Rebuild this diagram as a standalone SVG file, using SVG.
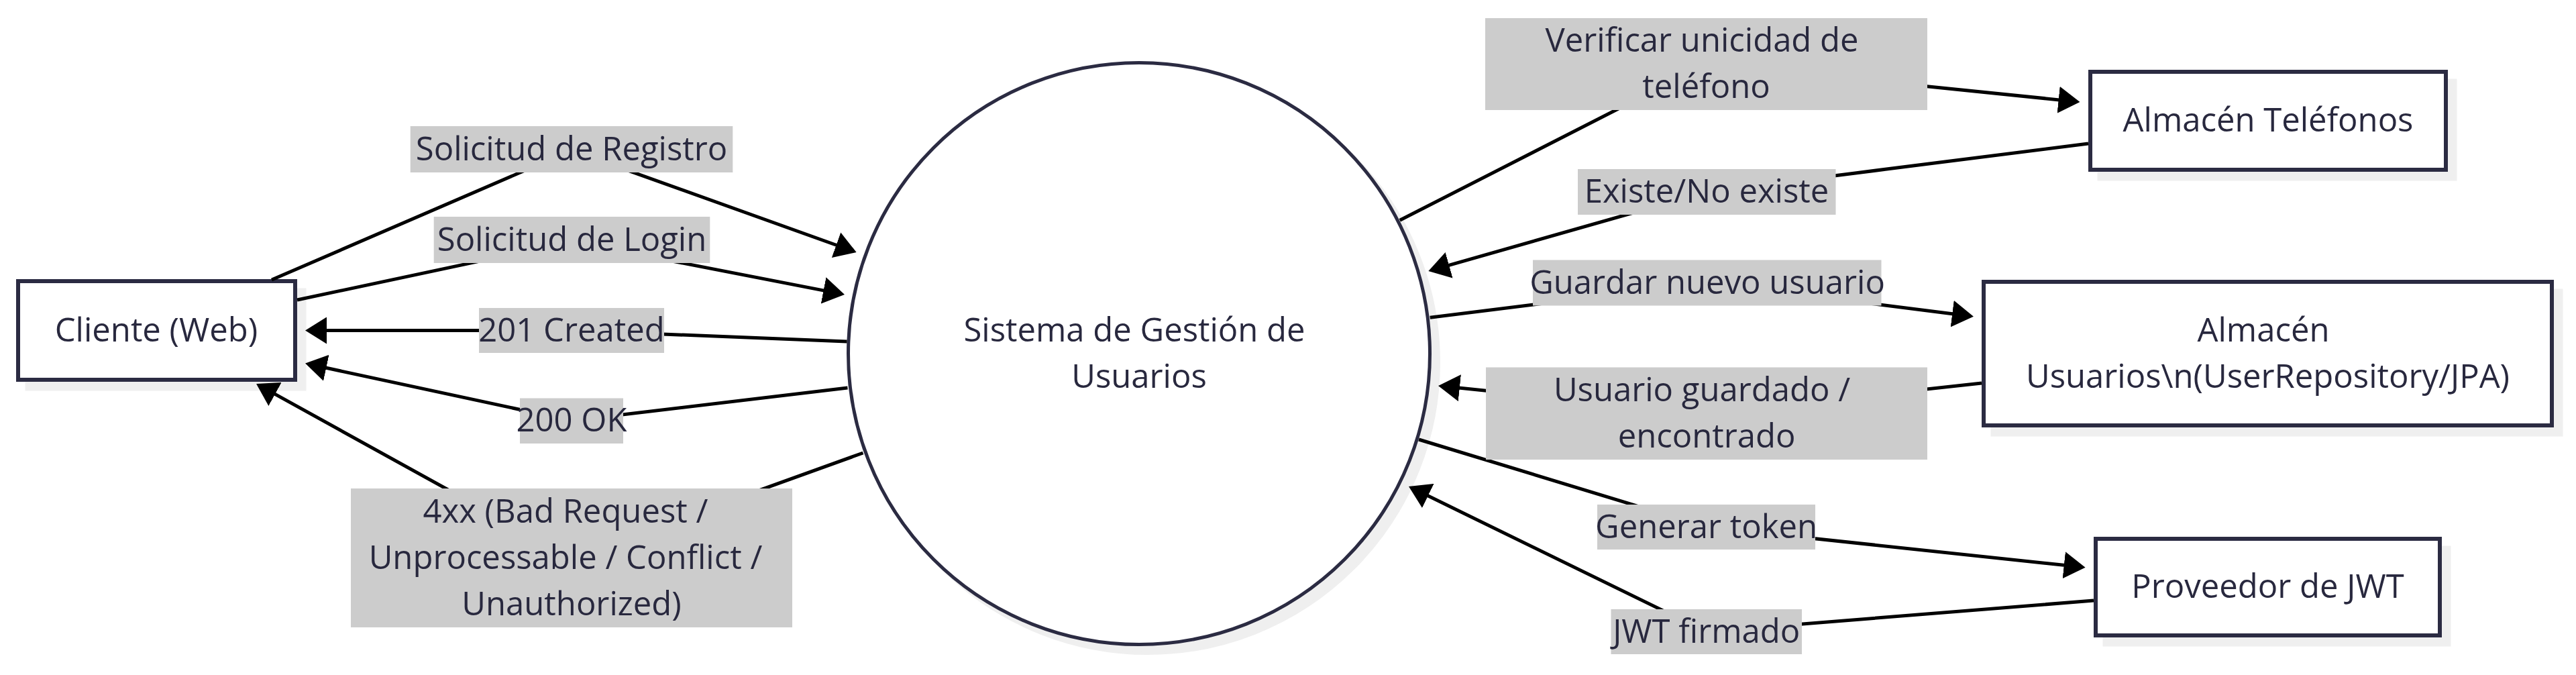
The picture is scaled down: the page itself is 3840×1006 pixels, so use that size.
<svg xmlns="http://www.w3.org/2000/svg" width="3840" height="1006" viewBox="0 0 3840 1006">
<defs>
<style>
.shape{fill:#ffffff;stroke:#2b2b42;stroke-width:6}
.circ{fill:#ffffff;stroke:#2b2b42;stroke-width:5}
.shadow{fill:#efefef;stroke:#efefef;stroke-width:6}
.edge{fill:none;stroke:#000000;stroke-width:5;marker-end:url(#arrow)}
.lbl{fill:#cccccc}
text{font-family:"Open Sans","Liberation Sans",Arial,sans-serif;font-size:49px;fill:#28283e;text-anchor:middle}
</style>
<marker id="arrow" viewBox="0 0 32 40" refX="26" refY="20" markerUnits="userSpaceOnUse" markerWidth="32" markerHeight="40" orient="auto">
<path d="M0,0 L32,20 L0,40 z" fill="#000000"/>
</marker>
</defs>
<rect x="0" y="0" width="3840" height="1006" fill="#ffffff"/>

<g id="nodes">
  <g id="node-cliente">
    <rect class="shadow" x="40.5" y="432.5" width="413" height="147"/>
    <rect class="shape" x="27" y="419" width="413" height="147"/>
    <text x="233" y="509">Cliente (Web)</text>
  </g>
  <g id="node-sistema">
    <circle class="shadow" cx="1711" cy="540" r="433.5" style="stroke-width:5"/>
    <circle class="circ" cx="1698" cy="527" r="433.5"/>
    <text x="1691" y="508.5">Sistema de Gestión de</text>
    <text x="1698" y="577.5">Usuarios</text>
  </g>
  <g id="node-telefonos">
    <rect class="shadow" x="3129.5" y="120.5" width="530" height="146"/>
    <rect class="shape" x="3116" y="107" width="530" height="146"/>
    <text x="3381" y="196">Almacén Teléfonos</text>
  </g>
  <g id="node-usuarios">
    <rect class="shadow" x="2970.5" y="433.5" width="847" height="214"/>
    <rect class="shape" x="2957" y="420" width="847" height="214"/>
    <text x="3374" y="508.5">Almacén</text>
    <text x="3380.5" y="577.5">Usuarios\n(UserRepository/JPA)</text>
  </g>
  <g id="node-jwt">
    <rect class="shadow" x="3137.5" y="816.5" width="513" height="144"/>
    <rect class="shape" x="3124" y="803" width="513" height="144"/>
    <text x="3380.5" y="891">Proveedor de JWT</text>
  </g>
</g>

<g id="connectors">
  <polyline class="edge" points="405,417 852,224 1271.0,374.0"/>
  <polyline class="edge" points="443,447 852.5,360 1253.1,437.9"/>
  <polyline class="edge" points="1262.5,509 852,492.5 461,492.5"/>
  <polyline class="edge" points="1263.5,578 852,627 460.9,542.8"/>
  <polyline class="edge" points="1286.5,675 852,831.5 387.3,574.9"/>
  <polyline class="edge" points="2086.7,328.3 2543.5,95.3 3094.5,151.4"/>
  <polyline class="edge" points="3113,214 2544,286 2135.1,402.4"/>
  <polyline class="edge" points="2131.7,473.3 2545,421.5 2936.0,470.9"/>
  <polyline class="edge" points="2954,571 2544,616 2150.0,575.6"/>
  <polyline class="edge" points="2115,655 2543.5,785.5 3102.6,845.0"/>
  <polyline class="edge" points="3121,895 2543.5,941.5 2105.4,727.6"/>
</g>

<g id="edge-labels">
  <g id="label-registro">
    <rect class="lbl" x="611.7" y="188" width="480.6" height="69"/>
    <text x="852" y="238.5">Solicitud de Registro</text>
  </g>
  <g id="label-login">
    <rect class="lbl" x="646.7" y="323" width="411.6" height="69"/>
    <text x="852.5" y="373.5">Solicitud de Login</text>
  </g>
  <g id="label-201">
    <rect class="lbl" x="714" y="459" width="276" height="67"/>
    <text x="852" y="508.5">201 Created</text>
  </g>
  <g id="label-200">
    <rect class="lbl" x="775" y="593.5" width="154" height="67.5"/>
    <text x="852" y="643">200 OK</text>
  </g>
  <g id="label-4xx">
    <rect class="lbl" x="523" y="728" width="658" height="207"/>
    <text x="843" y="778.5">4xx (Bad Request /</text>
    <text x="843" y="847.5">Unprocessable / Conflict /</text>
    <text x="852" y="916.5">Unauthorized)</text>
  </g>
  <g id="label-verificar">
    <rect class="lbl" x="2214" y="27" width="659" height="137"/>
    <text x="2537" y="77">Verificar unicidad de</text>
    <text x="2543.5" y="146">teléfono</text>
  </g>
  <g id="label-existe">
    <rect class="lbl" x="2352" y="252" width="384.5" height="68"/>
    <text x="2544" y="302">Existe/No existe</text>
  </g>
  <g id="label-guardar">
    <rect class="lbl" x="2285" y="387.5" width="519.5" height="68"/>
    <text x="2545" y="437.5">Guardar nuevo usuario</text>
  </g>
  <g id="label-guardado">
    <rect class="lbl" x="2215" y="547.5" width="658" height="137.5"/>
    <text x="2537" y="597.5">Usuario guardado /</text>
    <text x="2544" y="666.5">encontrado</text>
  </g>
  <g id="label-generar">
    <rect class="lbl" x="2381" y="752" width="325" height="67"/>
    <text x="2543.5" y="801.5">Generar token</text>
  </g>
  <g id="label-firmado">
    <rect class="lbl" x="2401.5" y="908" width="284.5" height="67"/>
    <text x="2543.7" y="957.5">JWT firmado</text>
  </g>
</g>
</svg>
